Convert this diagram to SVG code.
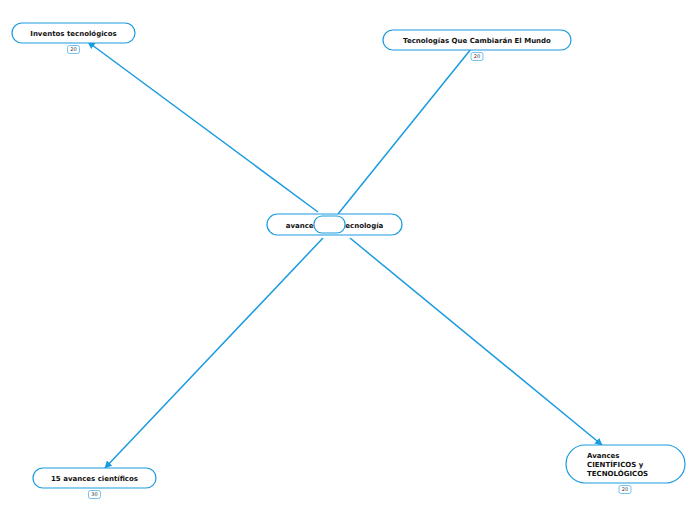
<svg xmlns="http://www.w3.org/2000/svg" width="696" height="520" viewBox="0 0 696 520">
<defs>
<style>
.node{fill:#fff;stroke:#1a9be0;stroke-width:1.2}
.t{font-family:"DejaVu Sans",sans-serif;font-weight:bold;font-size:7px;fill:#111}
.badge{fill:#fff;stroke:#1a9be0;stroke-width:0.6}
.bt{font-family:"DejaVu Sans",sans-serif;font-size:5px;fill:#333;text-anchor:middle}
.c{stroke:#1a9be0;stroke-width:1.5;fill:none}
.arr{marker-end:url(#a)}
</style>
<marker id="a" viewBox="0 0 10 10" refX="9" refY="5" markerWidth="5" markerHeight="5" orient="auto" markerUnits="strokeWidth">
<path d="M0,0 L10,5 L0,10 z" fill="#1a9be0"/>
</marker>
</defs>
<rect width="696" height="520" fill="#fff"/>
<g id="connectors">
<line class="c arr" x1="318" y1="212" x2="88" y2="42"/>
<line class="c" x1="338" y1="214" x2="471" y2="49"/>
<line class="c arr" x1="323" y1="238" x2="105" y2="468"/>
<line class="c arr" x1="350" y1="238" x2="602" y2="445"/>
</g>
<g id="n1">
<rect class="node" x="12" y="23" width="123" height="20" rx="10"/>
<text class="t" x="73.5" y="36" text-anchor="middle">Inventos tecnológicos</text>
<rect class="badge" x="67.5" y="45.5" width="12" height="8" rx="2"/>
<text class="bt" x="73.5" y="51.3">20</text>
</g>
<g id="n2">
<rect class="node" x="383" y="30" width="188" height="20" rx="10"/>
<text class="t" x="477" y="43" text-anchor="middle">Tecnologías Que Cambiarán El Mundo</text>
<rect class="badge" x="471" y="52.5" width="12" height="8" rx="2"/>
<text class="bt" x="477" y="58.3">20</text>
</g>
<g id="center">
<rect class="node" x="267" y="214" width="135" height="21" rx="10.5"/>
<text class="t" x="334.5" y="227.5" text-anchor="middle">avances de la tecnología</text>
<rect class="node" x="314" y="216" width="31" height="17" rx="8"/>
</g>
<g id="n4">
<rect class="node" x="33" y="468" width="123" height="20" rx="10"/>
<text class="t" x="94.5" y="481" text-anchor="middle">15 avances científicos</text>
<rect class="badge" x="88.5" y="490.5" width="12" height="8" rx="2"/>
<text class="bt" x="94.5" y="496.3">30</text>
</g>
<g id="n5">
<rect class="node" x="566" y="445" width="119" height="38" rx="19"/>
<text class="t" x="587" y="458">Avances</text>
<text class="t" x="587" y="467">CIENTÍFICOS y</text>
<text class="t" x="587" y="476">TECNOLÓGICOS</text>
<rect class="badge" x="619" y="485.5" width="12" height="8" rx="2"/>
<text class="bt" x="625" y="491.3">20</text>
</g>
</svg>
